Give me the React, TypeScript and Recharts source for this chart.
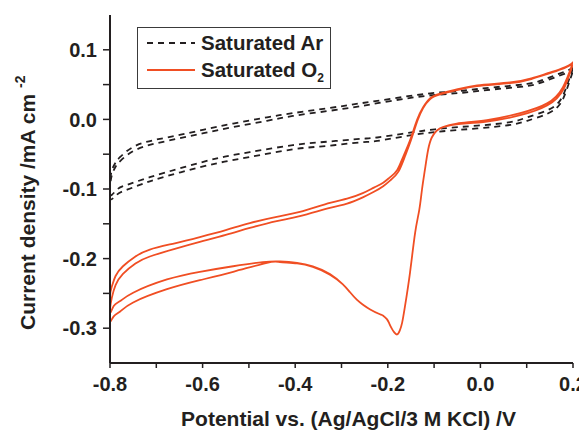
import { LineChart, Line, XAxis, YAxis, Legend, Label } from "recharts";

type Pt = [number, number];

const FONT = "'Liberation Sans', Arial, sans-serif";
const INK = "#231f20";
const RED = "#f04e23";

const arName = "Saturated Ar";
const o2Name = "Saturated O";

// potential (V) vs current density (mA cm-2)
const arCathodic1: Pt[] = [
  [0.2, 0.074], [0.187, 0.049], [0.172, 0.027], [0.144, 0.013], [0.101, 0.003],
  [0.064, -0.004], [-0.007, -0.009], [-0.081, -0.013], [-0.152, -0.019],
  [-0.223, -0.026], [-0.26, -0.028], [-0.33, -0.032], [-0.405, -0.037],
  [-0.498, -0.047], [-0.569, -0.056], [-0.642, -0.069], [-0.714, -0.083],
  [-0.763, -0.094], [-0.785, -0.101], [-0.8, -0.109],
];
const arAnodic1: Pt[] = [
  [-0.8, -0.09], [-0.796, -0.073], [-0.788, -0.062], [-0.778, -0.054],
  [-0.742, -0.037], [-0.677, -0.026], [-0.606, -0.016], [-0.534, -0.006],
  [-0.461, 0.003], [-0.405, 0.009], [-0.33, 0.016], [-0.26, 0.023],
  [-0.189, 0.03], [-0.115, 0.037], [-0.044, 0.041], [0.027, 0.046],
  [0.101, 0.051], [0.144, 0.059], [0.187, 0.07], [0.2, 0.074],
];
const arCathodic2: Pt[] = [
  [0.2, 0.07], [0.187, 0.044], [0.172, 0.022], [0.144, 0.008], [0.101, -0.002],
  [0.064, -0.008], [-0.007, -0.013], [-0.081, -0.017], [-0.152, -0.023],
  [-0.223, -0.031], [-0.26, -0.033], [-0.33, -0.038], [-0.405, -0.043],
  [-0.498, -0.054], [-0.569, -0.063], [-0.642, -0.075], [-0.714, -0.089],
  [-0.763, -0.101], [-0.785, -0.108], [-0.8, -0.115],
];
const arAnodic2: Pt[] = [
  [-0.8, -0.097], [-0.796, -0.08], [-0.788, -0.068], [-0.778, -0.06],
  [-0.742, -0.043], [-0.677, -0.031], [-0.606, -0.021], [-0.534, -0.011],
  [-0.461, -0.002], [-0.405, 0.005], [-0.33, 0.012], [-0.26, 0.019],
  [-0.189, 0.027], [-0.115, 0.034], [-0.044, 0.038], [0.027, 0.043],
  [0.101, 0.048], [0.144, 0.056], [0.187, 0.067], [0.2, 0.07],
];

const o2Cathodic1: Pt[] = [
  [0.2, 0.082], [0.178, 0.046], [0.144, 0.023], [0.086, 0.009], [0.014, -0.001],
  [-0.051, -0.006], [-0.081, -0.011], [-0.094, -0.016], [-0.105, -0.026],
  [-0.113, -0.044], [-0.12, -0.073], [-0.126, -0.1], [-0.132, -0.13],
  [-0.141, -0.163], [-0.152, -0.22], [-0.163, -0.269], [-0.169, -0.292],
  [-0.174, -0.303], [-0.18, -0.309], [-0.186, -0.306], [-0.191, -0.301],
  [-0.197, -0.293], [-0.202, -0.287], [-0.21, -0.282], [-0.217, -0.28],
  [-0.238, -0.273], [-0.254, -0.266], [-0.267, -0.259], [-0.282, -0.248],
  [-0.297, -0.237], [-0.325, -0.222], [-0.362, -0.211], [-0.396, -0.206],
  [-0.433, -0.204], [-0.47, -0.205], [-0.534, -0.211], [-0.606, -0.219],
  [-0.677, -0.23], [-0.75, -0.249], [-0.778, -0.261], [-0.792, -0.268],
  [-0.8, -0.277],
];
const o2Anodic1: Pt[] = [
  [-0.8, -0.254], [-0.796, -0.24], [-0.788, -0.225], [-0.772, -0.211],
  [-0.745, -0.197], [-0.714, -0.187], [-0.66, -0.178], [-0.606, -0.169],
  [-0.55, -0.159], [-0.498, -0.149], [-0.44, -0.14], [-0.39, -0.133],
  [-0.325, -0.12], [-0.288, -0.114], [-0.254, -0.106], [-0.23, -0.098],
  [-0.21, -0.091], [-0.195, -0.083], [-0.18, -0.073], [-0.167, -0.054],
  [-0.152, -0.03], [-0.137, -0.001], [-0.124, 0.017], [-0.109, 0.03],
  [-0.087, 0.037], [-0.051, 0.043], [-0.007, 0.049], [0.064, 0.053],
  [0.11, 0.059], [0.144, 0.066], [0.175, 0.073], [0.2, 0.082],
];
const o2Cathodic2: Pt[] = [
  [0.2, 0.08], [0.18, 0.044], [0.144, 0.02], [0.086, 0.006], [0.014, -0.003],
  [-0.051, -0.007], [-0.081, -0.011], [-0.094, -0.016], [-0.105, -0.026],
  [-0.113, -0.044], [-0.12, -0.073], [-0.126, -0.1], [-0.132, -0.13],
  [-0.141, -0.163], [-0.152, -0.22], [-0.163, -0.269], [-0.169, -0.292],
  [-0.174, -0.303], [-0.18, -0.309], [-0.186, -0.306], [-0.191, -0.301],
  [-0.197, -0.293], [-0.202, -0.287], [-0.21, -0.282], [-0.217, -0.28],
  [-0.238, -0.273], [-0.254, -0.266], [-0.267, -0.259], [-0.282, -0.248],
  [-0.297, -0.237], [-0.325, -0.223], [-0.362, -0.212], [-0.396, -0.207],
  [-0.433, -0.205], [-0.461, -0.206], [-0.534, -0.219], [-0.606, -0.231],
  [-0.677, -0.244], [-0.75, -0.263], [-0.778, -0.276], [-0.792, -0.283],
  [-0.8, -0.29],
];
const o2Anodic2: Pt[] = [
  [-0.8, -0.273], [-0.796, -0.256], [-0.788, -0.238], [-0.772, -0.222],
  [-0.745, -0.207], [-0.714, -0.197], [-0.66, -0.186], [-0.606, -0.176],
  [-0.55, -0.166], [-0.498, -0.156], [-0.44, -0.146], [-0.39, -0.139],
  [-0.325, -0.127], [-0.288, -0.121], [-0.254, -0.112], [-0.23, -0.104],
  [-0.21, -0.096], [-0.192, -0.086], [-0.177, -0.075], [-0.164, -0.055],
  [-0.15, -0.03], [-0.136, -0.002], [-0.124, 0.016], [-0.109, 0.029],
  [-0.087, 0.036], [-0.051, 0.042], [-0.007, 0.048], [0.064, 0.052],
  [0.11, 0.058], [0.144, 0.065], [0.175, 0.072], [0.2, 0.08],
];

const xTicks = [-0.8, -0.7, -0.6, -0.5, -0.4, -0.3, -0.2, -0.1, 0, 0.1, 0.2];
const yTicks = [-0.3, -0.25, -0.2, -0.15, -0.1, -0.05, 0, 0.05, 0.1];

const toRows = (...branches: Pt[][]) =>
  branches.flat().map(([v, j]) => ({ v, j }));

const arData = toRows(arCathodic1, arAnodic1, arCathodic2, arAnodic2);
const o2Data = toRows(o2Cathodic1, o2Anodic1, o2Cathodic2, o2Anodic2);

const fmtX = (t: number) => (Math.round(t * 10) % 2 === 0 ? t.toFixed(1) : "");
const fmtY = (t: number) => (Math.round(t * 100) % 10 === 0 ? t.toFixed(1) : "");
const blank = () => "";

const tickStyle = { fill: INK, fontSize: 20, fontWeight: 700, fontFamily: FONT };

function XTitle(props: any) {
  const { x, y, width } = props.viewBox;
  return (
    <text x={x + width / 2 + 7} y={y + 63} textAnchor="middle" fill={INK}
      fontSize={21} fontWeight={700} fontFamily={FONT}>
      Potential vs. (Ag/AgCl/3 M KCl) /V
    </text>
  );
}

function YTitle(props: any) {
  const { y, height } = props.viewBox;
  const cx = 27;
  const cy = y + height - 33;
  return (
    <text x={cx} y={cy} textAnchor="start" transform={`rotate(-90, ${cx}, ${cy})`}
      fill={INK} fontSize={21} fontWeight={700} fontFamily={FONT}>
      Current density /mA cm
      <tspan fontSize={14} dx={6} dy={-10}>-2</tspan>
    </text>
  );
}

function LegendBox() {
  return (
    <svg width={195} height={63} style={{ display: "block" }}>
      <rect x={0.5} y={0.5} width={193} height={61} fill="#fff" stroke="#3a3a3a" strokeWidth={1} />
      <line x1={10} x2={58} y1={16} y2={16} stroke={INK} strokeWidth={2} strokeDasharray="6 5" />
      <text x={64} y={23} fill={INK} fontSize={20.5} fontWeight={700} fontFamily={FONT}>
        {arName}
      </text>
      <line x1={10} x2={58} y1={43} y2={43} stroke={RED} strokeWidth={2} />
      <text x={64} y={50} fill={INK} fontSize={20.5} fontWeight={700} fontFamily={FONT}>
        {o2Name}
        <tspan fontSize={12} dy={5}>2</tspan>
      </text>
    </svg>
  );
}

export default function App() {
  return (
    <LineChart width={579} height={423} margin={{ top: 7, right: 14, bottom: 28, left: 0 }}>
      <XAxis dataKey="v" type="number" domain={[-0.8, 0.2]} allowDataOverflow
        ticks={xTicks} tickFormatter={fmtX} tick={tickStyle} height={40}
        tickSize={5} tickMargin={9}
        axisLine={{ stroke: INK, strokeWidth: 2 }} tickLine={{ stroke: INK, strokeWidth: 1.5 }}>
        <Label content={XTitle} />
      </XAxis>
      <XAxis xAxisId="top" orientation="top" dataKey="v" type="number" domain={[-0.8, 0.2]}
        allowDataOverflow ticks={xTicks} tickFormatter={blank} mirror height={0} tickSize={4}
        axisLine={{ stroke: INK, strokeWidth: 1.2 }} tickLine={{ stroke: INK, strokeWidth: 1 }} />
      <YAxis type="number" domain={[-0.35, 0.15]} allowDataOverflow ticks={yTicks}
        tickFormatter={fmtY} tick={tickStyle} width={102} tickSize={7} tickMargin={6}
        axisLine={{ stroke: INK, strokeWidth: 2 }} tickLine={{ stroke: INK, strokeWidth: 1.5 }}>
        <Label content={YTitle} />
      </YAxis>
      <YAxis yAxisId="right" orientation="right" type="number" domain={[-0.35, 0.15]}
        allowDataOverflow ticks={yTicks} tickFormatter={blank} mirror width={0} tickSize={4}
        axisLine={{ stroke: INK, strokeWidth: 2 }} tickLine={{ stroke: INK, strokeWidth: 1 }} />
      <Legend layout="horizontal" verticalAlign="middle" align="center"
        content={LegendBox}
        wrapperStyle={{ left: 129, top: 19, width: 195, height: 63 }} />
      <Line data={arData} dataKey="j" name={arName} type="natural" stroke={INK}
        strokeWidth={1.8} strokeDasharray="6 5" dot={false} activeDot={false}
        isAnimationActive={false} />
      <Line data={o2Data} dataKey="j" name={o2Name} type="natural" stroke={RED}
        strokeWidth={1.8} dot={false} activeDot={false} isAnimationActive={false} />
    </LineChart>
  );
}
